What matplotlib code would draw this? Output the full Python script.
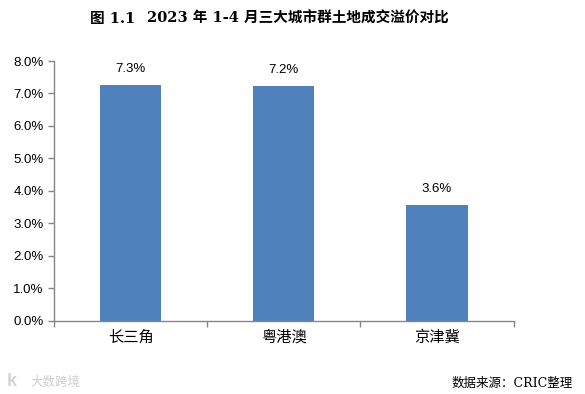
import matplotlib
matplotlib.use("Agg")
import matplotlib.pyplot as plt

categories = ["长三角", "粤港澳", "京津冀"]
values = [7.26, 7.22, 3.56]
yticks = [0, 1, 2, 3, 4, 5, 6, 7, 8]

W, H = 585, 394
CJK = ["Liberation Sans", "Noto Sans CJK SC", "DejaVu Sans"]
plt.rcParams["font.family"] = CJK

fig = plt.figure(figsize=(W / 100, H / 100), dpi=100, facecolor="white")
L, R, T, B = 54, 513.5, 61, 320.5
ax = fig.add_axes([L / W, 1 - B / H, (R - L) / W, (B - T) / H])
x = list(range(len(categories)))
ax.bar(x, values, width=0.4, color="#4F81BD", linewidth=0)
for xi, v in zip(x, values):
    ax.annotate(f"{v:.1f}%", (xi, v), xytext=(0, 7.5), textcoords="offset points",
                ha="center", va="bottom", fontsize=9.5, color="black")
ax.set_xlim(-0.5, 2.5)
ax.set_ylim(0, 8)
ax.set_yticks(yticks)
ax.set_yticklabels([f"{t:.1f}%" for t in yticks], fontsize=9.5)
ax.set_xticks([-0.5, 0.5, 1.5, 2.5])
ax.set_xticklabels([])
ax.set_xticks(x, minor=True)
ax.set_xticklabels(categories, minor=True, fontsize=11)
ax.tick_params(axis="x", which="minor", length=0, pad=7)
ax.tick_params(axis="x", which="major", length=4, width=1, color="#868686", direction="out")
ax.tick_params(axis="y", length=4, width=1, color="#868686", direction="out", pad=3.5)
for s in ("top", "right"):
    ax.spines[s].set_visible(False)
for s in ("left", "bottom"):
    ax.spines[s].set_color("#868686")
    ax.spines[s].set_linewidth(1)

SERIF = ["DejaVu Serif", "Noto Sans CJK SC"]
fig.text(90 / W, 1 - 19 / H, "图 1.1", fontsize=10.5, fontweight="bold", va="center", ha="left", family=SERIF)
fig.text(147 / W, 1 - 19 / H, "2023 年 1-4 月三大城市群土地成交溢价对比", fontsize=10.5, fontweight="bold",
         va="center", ha="left", family=SERIF)
fig.text(452 / W, 1 - 383 / H, "数据来源：CRIC整理", fontsize=9, va="center", ha="left", family=SERIF)
fig.text(30 / W, 1 - 382 / H, "大数跨境", fontsize=9, color="#CFCFCF", va="center", ha="left",
         family=["Noto Sans CJK SC"])
fig.text(7 / W, 1 - 381 / H, "k", fontsize=13, color="#D5D5D5", va="center", ha="left", fontweight="bold")
fig.savefig("out.png", dpi=100, facecolor="white")
